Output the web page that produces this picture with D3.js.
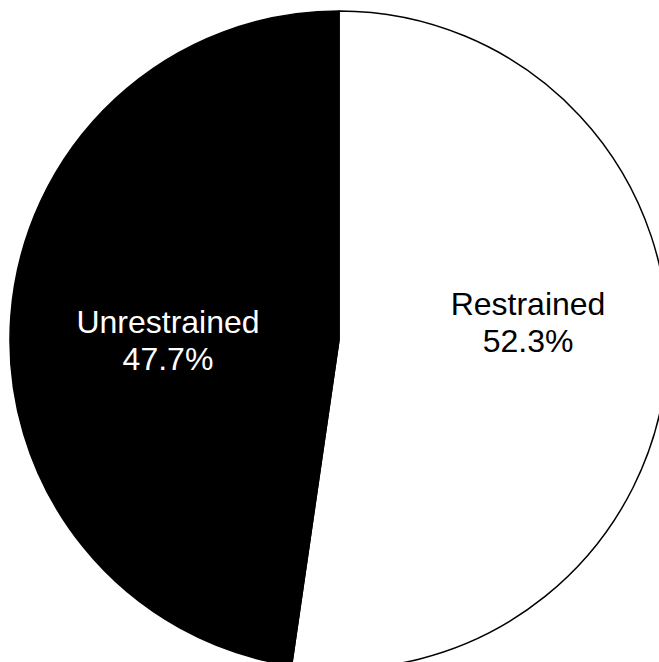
<!DOCTYPE html>
<html>
<head>
<meta charset="utf-8">
<script src="https://cdn.jsdelivr.net/npm/d3@7"></script>
<style>
  html, body { margin: 0; padding: 0; background: #fff; }
  svg { display: block; }
  text { font-family: "Liberation Sans", Arial, sans-serif; }
</style>
</head>
<body>
<div id="chart"></div>
<script>
const categories = ['Restrained', 'Unrestrained'];
const shares = [52.3, 47.7];
const fills = ['#ffffff', '#000000'];
const textColors = ['#000000', '#ffffff'];

const width = 659;
const height = 662;
const cx = 339;
const cy = 340;
const radius = 329;
const labelRadius = 180;
// nudges so labels sit where the original put them
const labelNudge = [[9.5, -31], [8.5, 13]];

const svg = d3.select('#chart')
  .append('svg')
  .attr('width', width)
  .attr('height', height);

const g = svg.append('g')
  .attr('transform', `translate(${cx}, ${cy})`);

const pie = d3.pie().sort(null).value(d => d);
const arcs = pie(shares);

const arc = d3.arc().innerRadius(0).outerRadius(radius);
const labelArc = d3.arc().innerRadius(labelRadius).outerRadius(labelRadius);

g.selectAll('path')
  .data(arcs)
  .enter()
  .append('path')
  .attr('d', arc)
  .attr('fill', (d, i) => fills[i])
  .attr('stroke', '#000')
  .attr('stroke-width', 1.5)
  .attr('stroke-linejoin', 'round');

const labels = g.selectAll('g.label')
  .data(arcs)
  .enter()
  .append('g')
  .attr('class', 'label')
  .attr('transform', (d, i) => {
    const c = labelArc.centroid(d);
    return `translate(${c[0] + labelNudge[i][0]}, ${c[1] + labelNudge[i][1]})`;
  });

labels.append('text')
  .attr('text-anchor', 'middle')
  .attr('y', -7)
  .attr('font-size', 32)
  .attr('fill', (d, i) => textColors[i])
  .text((d, i) => categories[i]);

labels.append('text')
  .attr('text-anchor', 'middle')
  .attr('y', 30)
  .attr('font-size', 32)
  .attr('fill', (d, i) => textColors[i])
  .text((d, i) => shares[i].toFixed(1) + '%');
</script>
</body>
</html>
